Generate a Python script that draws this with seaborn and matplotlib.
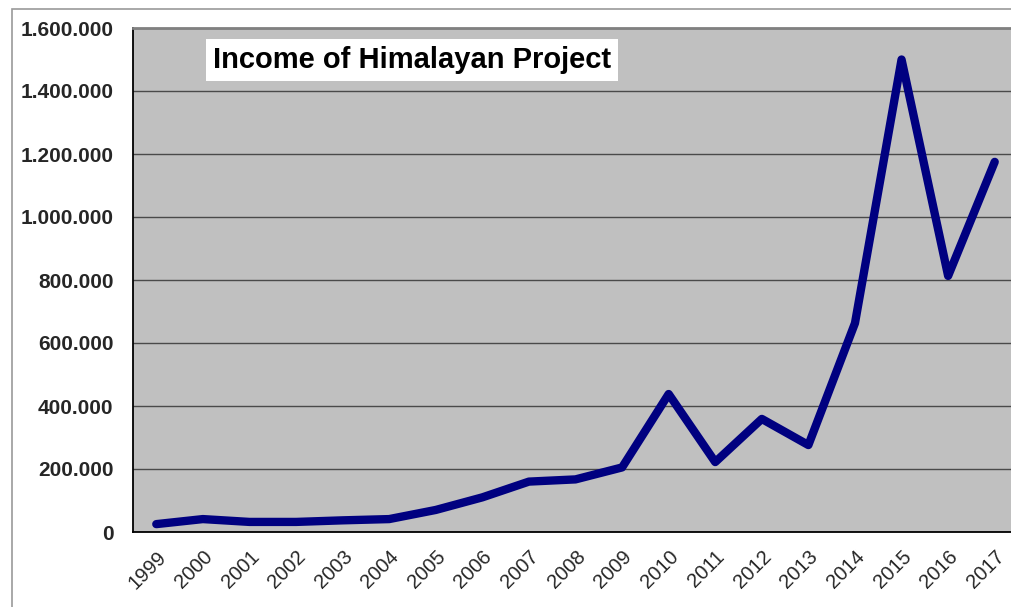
import numpy as np
import pandas as pd
import seaborn as sns
import matplotlib.pyplot as plt
from matplotlib.patches import Rectangle
from matplotlib.ticker import FuncFormatter, FixedLocator

# data
years = ['1999', '2000', '2001', '2002', '2003', '2004', '2005', '2006', '2007', '2008',
         '2009', '2010', '2011', '2012', '2013', '2014', '2015', '2016', '2017']
income = [25000, 41000, 32000, 32000, 37000, 41000, 70000, 110000, 160000, 167000,
          205000, 438000, 222000, 359000, 276000, 663000, 1500000, 813000, 1175000]
yticks = [0, 200000, 400000, 600000, 800000, 1000000, 1200000, 1400000, 1600000]

df = pd.DataFrame({'year': years, 'income': income})
df['pos'] = np.arange(len(years))

sns.set_style('white')
plt.rcParams['font.family'] = ['Liberation Sans', 'DejaVu Sans']

fig = plt.figure(figsize=(10.12, 6.07), dpi=100)
ax = fig.add_axes([133 / 1012, 75 / 607, 885 / 1012, 504 / 607])
ax.set_facecolor('#C0C0C0')

# outer chart frame
fig.patches.append(Rectangle((12 / 1012, -0.05), 1.1, (598 / 607) + 0.05,
                             transform=fig.transFigure, fill=False,
                             edgecolor='#9A9A9A', linewidth=1.2))

sns.lineplot(data=df, x='pos', y='income', ax=ax, color='#000080', linewidth=6,
             solid_capstyle='round', solid_joinstyle='round', zorder=3)

ax.set_xlim(-0.5, len(years) - 0.5)
ax.set_ylim(0, 1600000)
ax.set_yticks(yticks)
ax.yaxis.set_major_formatter(FuncFormatter(lambda v, p: '{:,.0f}'.format(v).replace(',', '.')))
ax.grid(axis='y', color='#4A4A4A', linewidth=1.0)
ax.set_axisbelow(True)

ax.set_xticks(df['pos'])
ax.set_xticklabels(years, rotation=45, ha='right', rotation_mode='anchor', fontsize=14.5)
ax.xaxis.set_minor_locator(FixedLocator(np.arange(-0.5, len(years), 1.0)))
for lbl in ax.get_xticklabels():
    lbl.set_x(lbl.get_position()[0])
ax.tick_params(axis='x', which='major', length=0, pad=11)
ax.tick_params(axis='x', which='minor', length=5, color='black', width=1)
ax.tick_params(axis='y', length=5, color='black', width=1, labelsize=15, pad=9)
for lbl in ax.get_yticklabels():
    lbl.set_fontweight('bold')

ax.set_xlabel('')
ax.set_ylabel('')
for side in ['left', 'bottom']:
    ax.spines[side].set_color('black')
    ax.spines[side].set_linewidth(1.3)
ax.spines['top'].set_color('#808080')
ax.spines['top'].set_linewidth(2)
ax.spines['right'].set_visible(False)

fig.text(213 / 1012, 1 - 60 / 607, 'Income of Himalayan Project',
         fontsize=21, fontweight='bold', va='center', ha='left', color='black',
         bbox=dict(facecolor='white', edgecolor='none', pad=5), zorder=5)

fig.savefig('out.png', dpi=100)
